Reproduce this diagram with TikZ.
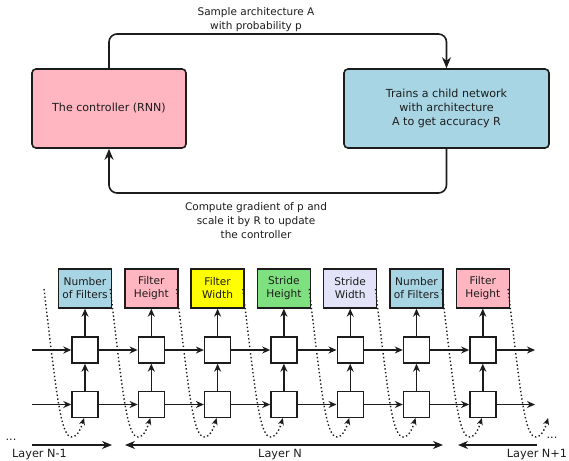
\documentclass[tikz,border=0pt]{standalone}
\usepackage{fontspec}
\setmainfont{DejaVu Sans}
\usetikzlibrary{arrows.meta}

\definecolor{ctrlpink}{HTML}{FFB6C1}
\definecolor{childblue}{HTML}{A8D5E4}
\definecolor{fyellow}{HTML}{FFFF00}
\definecolor{sgreen}{HTML}{7FE07F}
\definecolor{slav}{HTML}{E2E2F8}
\definecolor{ink}{HTML}{1C1C1C}

\begin{document}
\begin{tikzpicture}[x=1pt,y=-1pt,
  every node/.style={text=ink},
  bigbox/.style={draw=ink, line width=1.6pt, rounded corners=4pt,
    minimum height=79pt, align=center, inner sep=0pt,
    font=\fontsize{11.1}{14}\selectfont},
  lbl/.style={align=center, inner sep=0pt, font=\fontsize{10.5}{14}\selectfont},
  loopline/.style={draw=ink, line width=1.6pt, rounded corners=8pt,
    -{Stealth[length=11pt,width=9pt]}},
  parbox/.style={draw=ink, line width=1.4pt, minimum width=53pt, minimum height=39pt,
    align=center, inner sep=0pt, font=\fontsize{10.6}{13}\selectfont},
  cell/.style={draw=ink, line width=1.4pt, fill=white, minimum size=26pt, inner sep=0pt},
  arr/.style={draw=ink, line width=1.4pt, -{Stealth[length=8pt,width=7pt]}},
  dots/.style={draw=ink, line width=1.4pt, dash pattern=on 1.4pt off 2.4pt,
    -{Stealth[length=7pt,width=6pt]}},
  layarr/.style={draw=ink, line width=1.4pt},
  laylbl/.style={inner sep=0pt, font=\fontsize{11.3}{12}\selectfont}
]
\useasboundingbox (0,0) rectangle (569,460);

% ---- controller loop ----
\node[bigbox, fill=ctrlpink, minimum width=154pt] (ctrl) at (109,108.5) {The controller (RNN)};
\node[bigbox, fill=childblue, minimum width=205pt] (child) at (446.5,108.5)
  {Trains a child network\\with architecture\\A to get accuracy R};

\coordinate (topR) at (446.5,34);
\coordinate (botL) at (109,193);
\draw[loopline] (ctrl.north) |- (topR) -- (child.north);
\draw[loopline] (child.south) |- (botL) -- (ctrl.south);

\node[lbl] (sample) at (256,20) {Sample architecture A\\with probability p};
\node[lbl] (grad) at (256,221) {Compute gradient of p and\\scale it by R to update\\the controller};

% ---- unrolled RNN controller ----
\foreach \i/\txt/\col in {0/{Number\\of Filters}/childblue, 1/{Filter\\Height}/ctrlpink,
    2/{Filter\\Width}/fyellow, 3/{Stride\\Height}/sgreen, 4/{Stride\\Width}/slav,
    5/{Number\\of Filters}/childblue, 6/{Filter\\Height}/ctrlpink} {
  \pgfmathsetmacro\xx{85+66.3*\i}
  \node[parbox, fill=\col] (p\i) at (\xx,288.5) {\txt};
  \node[cell] (t\i) at (\xx,350) {};
  \node[cell] (b\i) at (\xx,404.5) {};
  \draw[arr] (b\i) -- (t\i);
  \draw[arr] (t\i) -- (p\i);
}

\coordinate (tin) at (32,350);
\coordinate (bin) at (32,404.5);
\coordinate (tout) at (535,350);
\coordinate (bout) at (535,404.5);
\draw[arr] (tin) -- (t0);
\draw[arr] (bin) -- (b0);
\foreach \i [evaluate=\i as \j using int(\i+1)] in {0,...,5} {
  \draw[arr] (t\i) -- (t\j);
  \draw[arr] (b\i) -- (b\j);
}
\draw[arr] (t6) -- (tout);
\draw[arr] (b6) -- (bout);

% dotted feedback of each sampled value into the next step
\foreach \i in {0,...,7} {
  \pgfmathsetmacro\xx{85+66.3*\i}
  \coordinate (ds\i) at (\xx-41,289);
  \coordinate (dm\i) at (\xx-13,437);
  \coordinate (de\i) at (\xx-1,418);
  \draw[dots] (ds\i) .. controls (\xx-28,400) and (\xx-24,437) .. (dm\i)
    .. controls (\xx-7,437) and (\xx-4,428) .. (de\i);
}

% ---- layer spans ----
\coordinate (l1a) at (32,445);
\coordinate (l1b) at (112,445);
\coordinate (l2a) at (125,445);
\coordinate (l2b) at (443,445);
\coordinate (l3a) at (458,445);
\coordinate (l3b) at (537,445);
\draw[layarr, -{Stealth[length=10pt,width=8pt]}] (l1a) -- (l1b);
\draw[layarr, {Stealth[length=10pt,width=8pt]}-{Stealth[length=10pt,width=8pt]}] (l2a) -- (l2b);
\draw[layarr, {Stealth[length=10pt,width=8pt]}-] (l3a) -- (l3b);

\node[laylbl] (dl) at (11,440) {...};
\node[laylbl] (dr) at (552,438) {...};
\node[laylbl] (ln1) at (39.5,455) {Layer N-1};
\node[laylbl] (ln) at (280,455) {Layer N};
\node[laylbl] (ln2) at (537,455) {Layer N+1};
\end{tikzpicture}
\end{document}
